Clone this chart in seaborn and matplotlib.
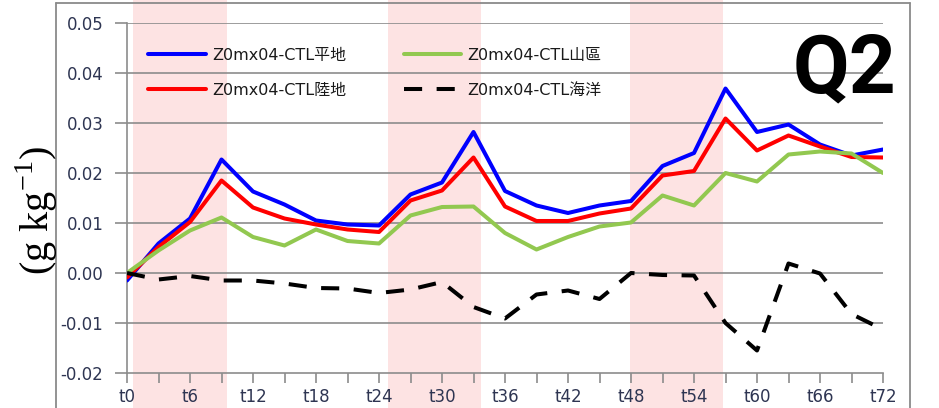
import matplotlib
matplotlib.use("Agg")
import matplotlib.pyplot as plt
from matplotlib.lines import Line2D
import pandas as pd
import seaborn as sns

# forecast hour (every 3 h)
hours = list(range(0, 73, 3))

# Z0mx04 minus CTL, Q2 difference (g/kg) for each region
flat = [-0.0015, 0.0059, 0.0109, 0.0227, 0.0163, 0.0137, 0.0105, 0.0097, 0.0095,
        0.0157, 0.0181, 0.0282, 0.0164, 0.0135, 0.0120, 0.0135, 0.0144, 0.0214,
        0.0240, 0.0369, 0.0282, 0.0297, 0.0257, 0.0235, 0.0247]
land = [-0.0009, 0.0052, 0.0102, 0.0185, 0.0131, 0.0109, 0.0097, 0.0087, 0.0082,
        0.0145, 0.0165, 0.0231, 0.0133, 0.0104, 0.0104, 0.0119, 0.0129, 0.0195,
        0.0204, 0.0309, 0.0245, 0.0275, 0.0253, 0.0232, 0.0231]
mountain = [0.0000, 0.0045, 0.0085, 0.0111, 0.0072, 0.0055, 0.0087, 0.0064, 0.0059,
            0.0115, 0.0132, 0.0133, 0.0080, 0.0047, 0.0072, 0.0093, 0.0101, 0.0155,
            0.0135, 0.0200, 0.0183, 0.0237, 0.0243, 0.0239, 0.0200]
ocean = [0.0000, -0.0013, -0.0006, -0.0015, -0.0015, -0.0021, -0.0030, -0.0031, -0.0040,
         -0.0033, -0.0018, -0.0068, -0.0091, -0.0043, -0.0035, -0.0052, 0.0000, -0.0004,
         -0.0005, -0.0100, -0.0155, 0.0019, -0.0001, -0.0082, -0.0113]

series_names = ["Z0mx04-CTL平地", "Z0mx04-CTL陸地", "Z0mx04-CTL山區", "Z0mx04-CTL海洋"]
series_values = [flat, land, mountain, ocean]
series_colors = ["#0000FF", "#FF0000", "#92C850", "#000000"]

# daytime windows (hours)
day_spans = [(0.6, 9.5), (24.9, 33.7), (47.9, 56.8)]

yticks = [-0.02, -0.01, 0.00, 0.01, 0.02, 0.03, 0.04, 0.05]
xtick_labels = [f"t{h}" if h % 6 == 0 else "" for h in hours]

sns.set_style("white")
plt.rcParams["font.family"] = ["DejaVu Sans", "Noto Sans CJK TC"]
plt.rcParams["axes.unicode_minus"] = False

W, H = 939, 408
fig = plt.figure(figsize=(W / 100, H / 100), dpi=100)
ax = fig.add_axes([127 / W, 35 / H, (883 - 127) / W, (373 - 23) / H])

grid_color = "#8C8C8C"
text_color = "#2E3552"

for x0, x1 in day_spans:
    ax.axvspan(x0, x1, ymin=-0.12, ymax=1.08, color="#FDE3E3", lw=0,
               zorder=0, clip_on=False)

for v in yticks[1:]:
    ax.axhline(v, color=grid_color, lw=1.2, zorder=1)

for name, vals, col in zip(series_names, series_values, series_colors):
    df = pd.DataFrame({"hour": hours, "value": vals})
    kw = {}
    if name.endswith("海洋"):
        kw["linestyle"] = (0, (4.5, 3.6))
    sns.lineplot(data=df, x="hour", y="value", ax=ax, color=col, lw=2.9,
                 label=name, zorder=3, **kw)

ax.set_xlim(0, 72)
ax.set_ylim(-0.02, 0.05)
ax.set_xticks(hours)
ax.set_xticklabels(xtick_labels)
ax.set_yticks(yticks)
ax.set_yticklabels([f"{v:.2f}" for v in yticks])
ax.set_xlabel("")
ax.set_ylabel("")

for s in ["top", "right"]:
    ax.spines[s].set_visible(False)
for s in ["left", "bottom"]:
    ax.spines[s].set_color(grid_color)
    ax.spines[s].set_linewidth(1.2)

ax.tick_params(axis="y", direction="out", length=9, width=1.2, color=grid_color,
               labelsize=12, labelcolor=text_color, pad=8, left=True)
ax.tick_params(axis="x", direction="out", length=7, width=1.2, color=grid_color,
               labelsize=12, labelcolor=text_color, pad=4, bottom=True)

handles, labels = ax.get_legend_handles_labels()
leg = ax.legend(handles, labels, ncol=2, loc="upper left",
                bbox_to_anchor=(148 / W, 1 - 48 / H), bbox_transform=fig.transFigure,
                frameon=False, fontsize=11.5, handlelength=3.6, handletextpad=0.4,
                columnspacing=3.6, labelspacing=1.25, borderpad=0, borderaxespad=0)
for t in leg.get_texts():
    t.set_color("#1A1A1A")

# outer chart frame
frame_kw = dict(color="#8A8A8A", lw=1.3, transform=fig.transFigure, zorder=5)
fig.add_artist(Line2D([56 / W, 56 / W], [0, 1 - 2.5 / H], **frame_kw))
fig.add_artist(Line2D([56 / W, 910 / W], [1 - 2.5 / H, 1 - 2.5 / H], **frame_kw))
fig.add_artist(Line2D([910 / W, 910 / W], [0, 1 - 2.5 / H], **frame_kw))

fig.text(37 / W, 1 - 211 / H, r"(g kg$^{\mathregular{-1}}$)", rotation=90,
         ha="center", va="center", fontsize=29, family="Liberation Serif",
         color="black", zorder=6)
fig.text(896 / W, 1 - 92 / H, "Q2", ha="right", va="baseline", fontsize=59,
         family="Roboto", fontweight="bold", color="black", zorder=6)

fig.savefig("out.png", dpi=100)
